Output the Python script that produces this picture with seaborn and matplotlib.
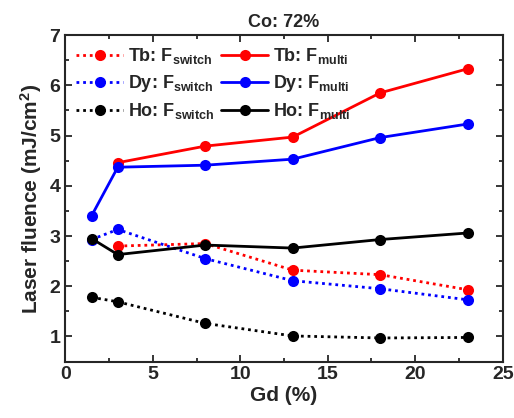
import numpy as np
import pandas as pd
import matplotlib
matplotlib.use("Agg")
import matplotlib.pyplot as plt
import seaborn as sns

# Données
gd_tb = [3, 8, 13, 18, 23]
gd_all = [1.5, 3, 8, 13, 18, 23]

tb_switch = [2.80, 2.85, 2.32, 2.23, 1.93]
tb_multi = [4.46, 4.79, 4.97, 5.85, 6.33]
dy_switch = [2.93, 3.13, 2.55, 2.11, 1.95, 1.73]
dy_multi = [3.40, 4.37, 4.41, 4.53, 4.96, 5.23]
ho_switch = [1.78, 1.69, 1.26, 1.01, 0.97, 0.98]
ho_multi = [2.95, 2.63, 2.82, 2.76, 2.93, 3.06]

sns.set_style("ticks")
plt.rcParams['font.family'] = ['Liberation Sans', 'DejaVu Sans']
plt.rcParams['font.weight'] = 'bold'
plt.rcParams['axes.labelweight'] = 'bold'
plt.rcParams['mathtext.fontset'] = 'custom'
plt.rcParams['mathtext.rm'] = 'Liberation Sans:bold'
plt.rcParams['mathtext.default'] = 'rm'

fig, ax = plt.subplots(figsize=(5.14, 4.18), dpi=100)

dot = (0, (1, 1.4))
series = [
    (gd_tb, tb_switch, 'red', dot, r'Tb: F$_{switch}$'),
    (gd_tb, tb_multi, 'red', '-', r'Tb: F$_{multi}$'),
    (gd_all, dy_switch, 'blue', dot, r'Dy: F$_{switch}$'),
    (gd_all, dy_multi, 'blue', '-', r'Dy: F$_{multi}$'),
    (gd_all, ho_switch, 'black', dot, r'Ho: F$_{switch}$'),
    (gd_all, ho_multi, 'black', '-', r'Ho: F$_{multi}$'),
]

for x, y, c, ls, lab in series:
    df = pd.DataFrame({'x': x, 'y': y})
    sns.lineplot(data=df, x='x', y='y', ax=ax, color=c, linestyle=ls,
                 linewidth=2, marker='o', markersize=8, markeredgewidth=0,
                 label=lab)

ax.set_xlim(0, 25)
ax.set_ylim(0.5, 7)
ax.set_xticks(np.arange(0, 26, 5))
ax.set_yticks(np.arange(1, 8, 1))
ax.set_xticks(np.arange(2.5, 25, 5), minor=True)
ax.set_yticks(np.arange(0.5, 7.1, 0.5), minor=True)
ax.tick_params(which='both', direction='in', top=True, right=True, labelsize=14)
ax.tick_params(which='major', length=5, width=1.3)
ax.tick_params(which='minor', length=3, width=1.3)
for s in ax.spines.values():
    s.set_linewidth(1.5)

ax.set_xlabel("Gd (%)", fontsize=15, labelpad=2)
ax.set_ylabel("Laser fluence (mJ/cm$^2$)", fontsize=15, labelpad=4)
ax.set_title("Co: 72%", fontsize=13, fontweight='bold', pad=6)

# ordre de la légende : colonne gauche switch, droite multi
h, l = ax.get_legend_handles_labels()
order = [0, 2, 4, 1, 3, 5]
ax.legend([h[i] for i in order], [l[i] for i in order], ncol=2, frameon=False,
          loc='upper left', fontsize=13, handlelength=2.6, columnspacing=0.4,
          handletextpad=0.25, labelspacing=0.4, borderaxespad=0.2)

plt.subplots_adjust(left=0.127, right=0.978, top=0.916, bottom=0.135)
fig.savefig("out.png", dpi=100)
